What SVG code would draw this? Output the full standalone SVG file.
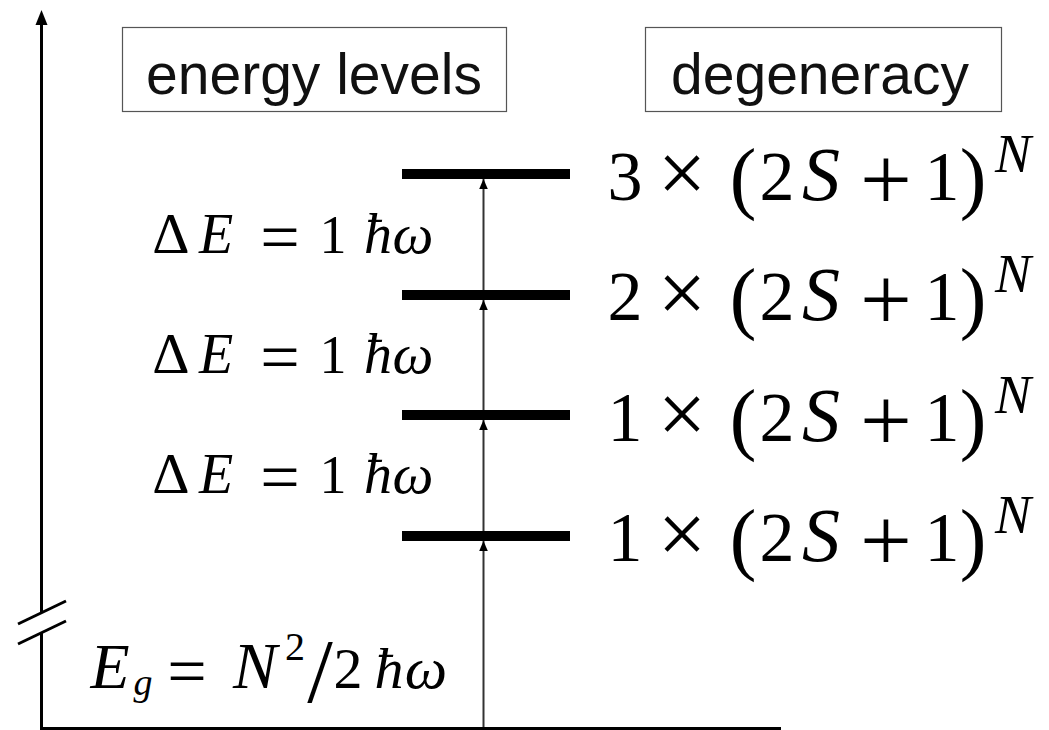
<svg xmlns="http://www.w3.org/2000/svg" width="1049" height="730" viewBox="0 0 1049 730">
<style>
.box{fill:#fff;stroke:#555;stroke-width:1.2}
.lbl{font-family:"Liberation Sans",Arial,sans-serif;font-size:57px;fill:#111;text-anchor:middle}
.m{font-family:"Liberation Serif","Times New Roman",serif;fill:#000;text-anchor:middle}
.it{font-style:italic}
.bar{fill:#000}
.axis{stroke:#000;stroke-width:3;fill:none}
.thin{stroke:#333;stroke-width:2;fill:none;marker-end:url(#ah)}
</style>
<defs>
<marker id="ah" markerUnits="userSpaceOnUse" markerWidth="10" markerHeight="12" refX="11" refY="4.75" orient="auto" viewBox="0 0 11 9.5">
<path d="M0,0 L11,4.75 L0,9.5 Z" fill="#000"/>
</marker>
</defs>
<rect width="1049" height="730" fill="#fff"/>
<g id="connectors">
<line class="axis" x1="41.5" y1="727" x2="41.5" y2="633"/>
<line class="axis" x1="41.5" y1="612" x2="41.5" y2="24"/>
<polygon points="41.5,10 35.5,25 47.5,25" fill="#000"/>
<line class="axis" x1="40" y1="728.5" x2="781" y2="728.5"/>
<line class="axis" x1="18" y1="624" x2="66" y2="601"/>
<line class="axis" x1="18" y1="644" x2="66" y2="621"/>
<line class="thin" x1="483.5" y1="727" x2="483.5" y2="541"/>
<line class="thin" x1="483.5" y1="531" x2="483.5" y2="420"/>
<line class="thin" x1="483.5" y1="410" x2="483.5" y2="300"/>
<line class="thin" x1="483.5" y1="290" x2="483.5" y2="179"/>
</g>
<g id="box-energy"><rect class="box" x="122.5" y="27.5" width="384" height="84"/><text class="lbl" x="314" y="94">energy levels</text></g>
<g id="box-degeneracy"><rect class="box" x="645.5" y="27.5" width="356" height="84"/><text class="lbl" x="820" y="94" font-size="59">degeneracy</text></g>
<g id="level-4"><rect class="bar" x="402" y="169" width="168" height="10"/>
<text class="m" font-size="70"><tspan x="625" y="200">3</tspan><tspan x="682" y="202" font-size="86">×</tspan><tspan x="743" y="204" font-size="80">(</tspan><tspan x="777" y="200">2</tspan><tspan x="821" y="200" class="it" font-size="76">S</tspan><tspan x="886" y="210" font-size="92">+</tspan><tspan x="942" y="200">1</tspan><tspan x="973" y="204" font-size="80">)</tspan><tspan x="1013" y="172" class="it" font-size="54">N</tspan></text></g>
<g id="level-3"><rect class="bar" x="402" y="290" width="168" height="10"/>
<text class="m" font-size="70"><tspan x="625" y="320">2</tspan><tspan x="682" y="322" font-size="86">×</tspan><tspan x="743" y="324" font-size="80">(</tspan><tspan x="777" y="320">2</tspan><tspan x="821" y="320" class="it" font-size="76">S</tspan><tspan x="886" y="330" font-size="92">+</tspan><tspan x="942" y="320">1</tspan><tspan x="973" y="324" font-size="80">)</tspan><tspan x="1013" y="292" class="it" font-size="54">N</tspan></text></g>
<g id="level-2"><rect class="bar" x="402" y="410" width="168" height="10"/>
<text class="m" font-size="70"><tspan x="625" y="441">1</tspan><tspan x="682" y="443" font-size="86">×</tspan><tspan x="743" y="445" font-size="80">(</tspan><tspan x="777" y="441">2</tspan><tspan x="821" y="441" class="it" font-size="76">S</tspan><tspan x="886" y="451" font-size="92">+</tspan><tspan x="942" y="441">1</tspan><tspan x="973" y="445" font-size="80">)</tspan><tspan x="1013" y="413" class="it" font-size="54">N</tspan></text></g>
<g id="level-1"><rect class="bar" x="402" y="531" width="168" height="10"/>
<text class="m" font-size="70"><tspan x="625" y="561">1</tspan><tspan x="682" y="563" font-size="86">×</tspan><tspan x="743" y="565" font-size="80">(</tspan><tspan x="777" y="561">2</tspan><tspan x="821" y="561" class="it" font-size="76">S</tspan><tspan x="886" y="571" font-size="92">+</tspan><tspan x="942" y="561">1</tspan><tspan x="973" y="565" font-size="80">)</tspan><tspan x="1013" y="533" class="it" font-size="54">N</tspan></text></g>
<g id="gap-3"><text class="m" font-size="56"><tspan x="171" y="253" font-size="58">Δ</tspan><tspan x="216" y="253" class="it">E</tspan><tspan x="280" y="261" font-size="70">=</tspan><tspan x="333" y="253" font-size="54">1</tspan><tspan x="378" y="253" class="it">ħ</tspan><tspan x="413" y="253" class="it" font-size="58">ω</tspan></text></g>
<g id="gap-2"><text class="m" font-size="56"><tspan x="171" y="373" font-size="58">Δ</tspan><tspan x="216" y="373" class="it">E</tspan><tspan x="280" y="381" font-size="70">=</tspan><tspan x="333" y="373" font-size="54">1</tspan><tspan x="378" y="373" class="it">ħ</tspan><tspan x="413" y="373" class="it" font-size="58">ω</tspan></text></g>
<g id="gap-1"><text class="m" font-size="56"><tspan x="171" y="493" font-size="58">Δ</tspan><tspan x="216" y="493" class="it">E</tspan><tspan x="280" y="501" font-size="70">=</tspan><tspan x="333" y="493" font-size="54">1</tspan><tspan x="378" y="493" class="it">ħ</tspan><tspan x="413" y="493" class="it" font-size="58">ω</tspan></text></g>
<g id="ground"><text class="m" font-size="58"><tspan x="110" y="688" class="it" font-size="64">E</tspan><tspan x="143" y="695" class="it" font-size="38">g</tspan><tspan x="187" y="695" font-size="70">=</tspan><tspan x="255" y="688" class="it" font-size="66">N</tspan><tspan x="295" y="660" font-size="40">2</tspan><tspan x="320" y="702" font-size="92">/</tspan><tspan x="348" y="688">2</tspan><tspan x="389" y="688" class="it">ħ</tspan><tspan x="426" y="688" class="it" font-size="60">ω</tspan></text></g>
</svg>
